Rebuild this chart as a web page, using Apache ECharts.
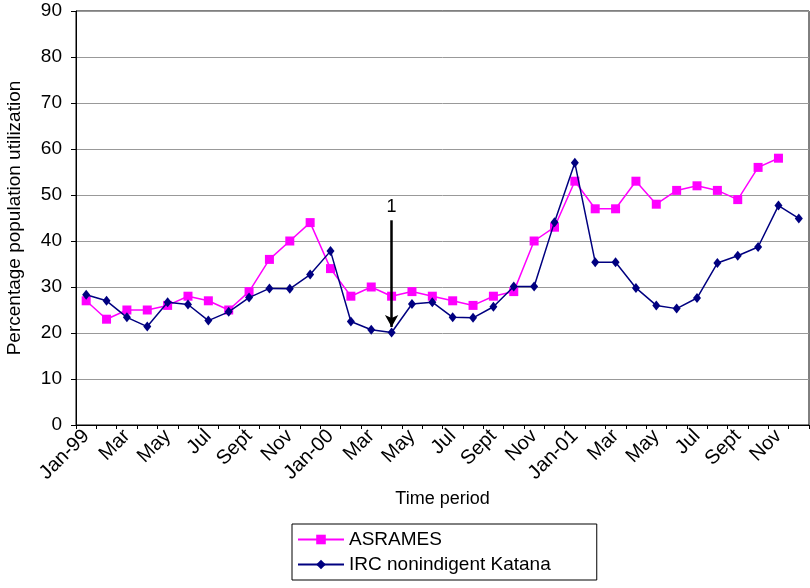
<!DOCTYPE html>
<html>
<head>
<meta charset="utf-8">
<script src="https://cdn.jsdelivr.net/npm/echarts@6/dist/echarts.min.js"></script>
<style>
  html, body { margin: 0; padding: 0; background: #fff; }
  #chart { width: 810px; height: 588px; }
</style>
</head>
<body>
<div id="chart"></div>
<script>
// Monthly periods, Jan 1999 - Dec 2001
var categories = [
  'Jan-99','Feb-99','Mar-99','Apr-99','May-99','Jun-99','Jul-99','Aug-99','Sep-99','Oct-99','Nov-99','Dec-99',
  'Jan-00','Feb-00','Mar-00','Apr-00','May-00','Jun-00','Jul-00','Aug-00','Sep-00','Oct-00','Nov-00','Dec-00',
  'Jan-01','Feb-01','Mar-01','Apr-01','May-01','Jun-01','Jul-01','Aug-01','Sep-01','Oct-01','Nov-01','Dec-01'
];

// Text shown under each month (every other one is drawn)
var tickLabels = [
  'Jan-99','Feb','Mar','Apr','May','Jun','Jul','Aug','Sept','Oct','Nov','Dec',
  'Jan-00','Feb','Mar','Apr','May','Jun','Jul','Aug','Sept','Oct','Nov','Dec',
  'Jan-01','Feb','Mar','Apr','May','Jun','Jul','Aug','Sept','Oct','Nov','Dec'
];

// Percentage population utilization
var asrames = [
  27, 23, 25, 25, 26, 28, 27, 25, 29, 36, 40, 44,
  34, 28, 30, 28, 29, 28, 27, 26, 28, 29, 40, 43,
  53, 47, 47, 53, 48, 51, 52, 51, 49, 56, 58
];

var ircKatana = [
  28.3, 27.0, 23.4, 21.4, 26.7, 26.2, 22.7, 24.6, 27.7, 29.7, 29.6, 32.7,
  37.8, 22.5, 20.7, 20.1, 26.3, 26.7, 23.4, 23.3, 25.7, 30.1, 30.1, 44.1,
  57.0, 35.4, 35.4, 29.8, 26.0, 25.3, 27.6, 35.2, 36.8, 38.7, 47.7, 44.9
];

// Event marker "1" (arrow at Apr-00)
var eventIndex = 15;
var eventLabel = '1';
var eventTop = 44.5;
var eventTip = 21.3;

var FONT = '"Liberation Sans", Arial, sans-serif';

var chart = echarts.init(document.getElementById('chart'), null, { renderer: 'canvas' });

chart.setOption({
  backgroundColor: '#ffffff',
  animation: false,
  textStyle: { fontFamily: FONT, color: '#000' },
  grid: {
    left: 76, right: 1, top: 11, bottom: 163,
    containLabel: false,
    outerBoundsMode: 'none',
    show: true, borderColor: '#000', borderWidth: 1, backgroundColor: 'transparent'
  },
  legend: {
    orient: 'vertical',
    left: 292, top: 524,
    padding: [6, 46, 6, 5],
    itemGap: 6,
    itemWidth: 46, itemHeight: 12,
    borderColor: '#000', borderWidth: 1,
    backgroundColor: '#fff',
    textStyle: { fontFamily: FONT, fontSize: 19, color: '#000' },
    data: ['ASRAMES', 'IRC nonindigent Katana']
  },
  xAxis: {
    type: 'category',
    data: categories,
    boundaryGap: true,
    name: 'Time period',
    nameLocation: 'middle',
    nameGap: 62,
    nameTextStyle: { fontFamily: FONT, fontSize: 18, color: '#000' },
    axisLine: { lineStyle: { color: '#000', width: 1 } },
    axisTick: { show: true, interval: 0, alignWithLabel: false, length: 4, lineStyle: { color: '#000' } },
    axisLabel: {
      interval: 1,
      rotate: 45,
      margin: 8,
      fontFamily: FONT, fontSize: 20, color: '#000',
      formatter: function (v, i) { return tickLabels[i]; }
    },
    splitLine: { show: false }
  },
  yAxis: {
    type: 'value',
    min: 0, max: 90, interval: 10,
    name: 'Percentage population utilization',
    nameLocation: 'middle',
    nameGap: 52,
    nameTextStyle: { fontFamily: FONT, fontSize: 19, color: '#000' },
    axisLine: { show: true, lineStyle: { color: '#000', width: 1 } },
    axisTick: { show: true, length: 5, lineStyle: { color: '#000' } },
    axisLabel: { margin: 14, fontFamily: FONT, fontSize: 19, color: '#000' },
    splitLine: { show: true, lineStyle: { color: '#999', width: 1 } }
  },
  series: [
    {
      name: 'ASRAMES',
      type: 'line',
      data: asrames,
      symbol: 'rect',
      symbolSize: 9,
      itemStyle: { color: '#ff00ff' },
      lineStyle: { color: '#ff00ff', width: 1.5 },
      z: 2
    },
    {
      name: 'IRC nonindigent Katana',
      type: 'line',
      data: ircKatana,
      symbol: 'diamond',
      symbolSize: [8, 10],
      itemStyle: { color: '#000080' },
      lineStyle: { color: '#000080', width: 1.5 },
      z: 3,
      markLine: {
        silent: true,
        symbol: ['none', 'arrow'],
        symbolSize: [10, 12],
        lineStyle: { color: '#000', width: 2.5, type: 'solid' },
        label: {
          show: true, position: 'start', distance: 4,
          formatter: eventLabel,
          fontFamily: FONT, fontSize: 18, color: '#000'
        },
        data: [[
          { coord: [eventIndex, eventTop] },
          { coord: [eventIndex, eventTip] }
        ]]
      }
    }
  ]
});
</script>
</body>
</html>
